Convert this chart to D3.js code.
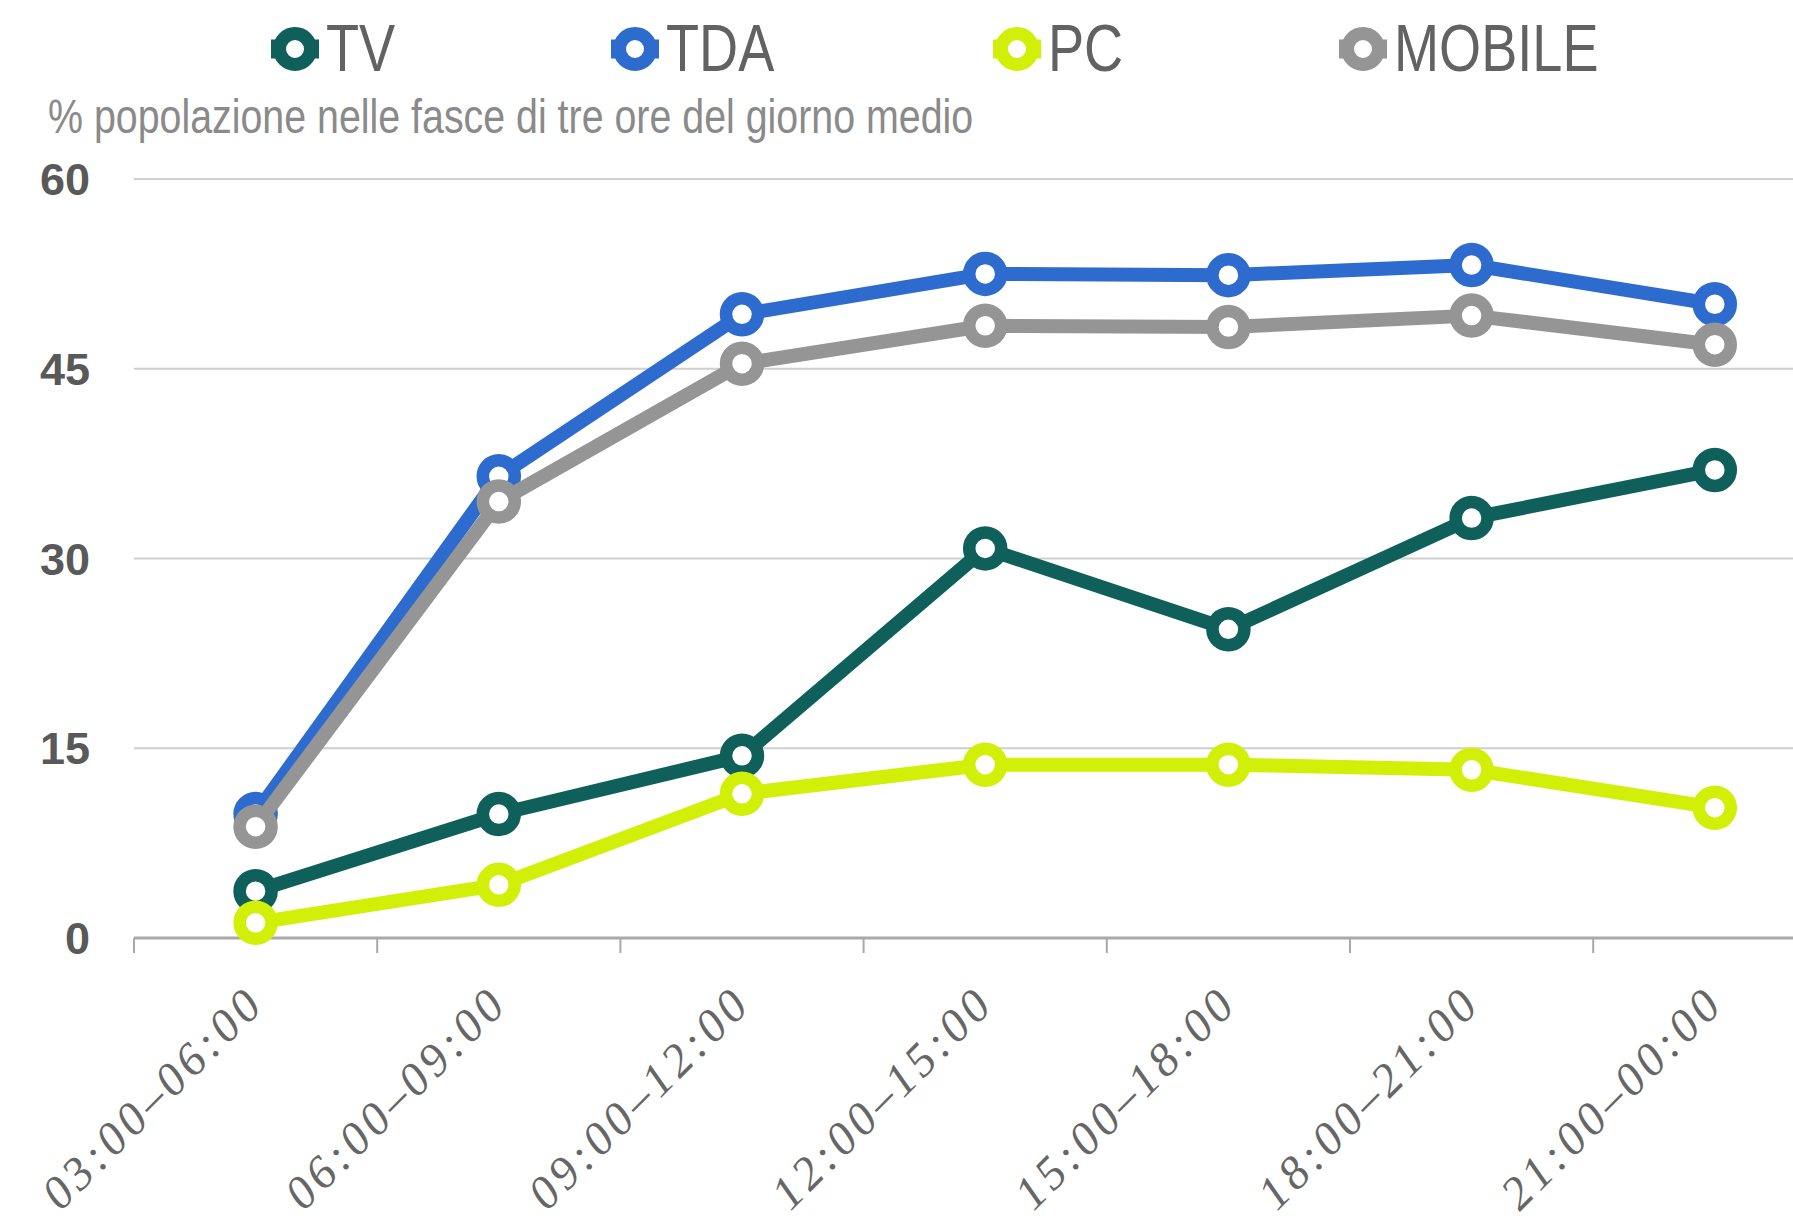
<!DOCTYPE html>
<html>
<head>
<meta charset="utf-8">
<script src="https://cdn.jsdelivr.net/npm/d3@7"></script>
<style>
    body { margin: 0; background: #fff; }
</style>
</head>
<body>
<div id="graph"></div>
<script>
let fasce = ["03:00–06:00", "06:00–09:00", "09:00–12:00", "12:00–15:00", "15:00–18:00", "18:00–21:00", "21:00–00:00"];
let valoriTV = [3.7, 9.8, 14.4, 30.8, 24.4, 33.2, 37.0];
let valoriTDA = [9.8, 36.5, 49.3, 52.5, 52.4, 53.2, 50.1];
let valoriPC = [1.2, 4.2, 11.4, 13.7, 13.7, 13.3, 10.3];
let valoriMobile = [8.8, 34.5, 45.4, 48.4, 48.3, 49.2, 46.9];
let yTicks = [0, 15, 30, 45, 60];

let serie = [
    { nome: "TV", valori: valoriTV, colore: "#0f5f5b", lx: 295 },
    { nome: "TDA", valori: valoriTDA, colore: "#2e6bcf", lx: 635 },
    { nome: "PC", valori: valoriPC, colore: "#d1ef07", lx: 1017 },
    { nome: "MOBILE", valori: valoriMobile, colore: "#959595", lx: 1363 }
];

let width = 1793;
let height = 1218;

let svg = d3.select('#graph')
    .append('svg')
    .attr('width', width)
    .attr('height', height);

// band scale: the 8th band runs off the right edge like in the original
let x = d3.scaleBand()
    .domain(fasce)
    .range([134, 134 + 7 * 243.2]);
let y = d3.scaleLinear()
    .domain([0, 60])
    .range([938, 179]);

let cx = function (c) { return x(c) + x.bandwidth() / 2; };

// grid
svg.selectAll('.grid')
    .data(yTicks.filter(function (d) { return d > 0; }))
    .enter().append('line')
    .attr('x1', 134)
    .attr('x2', width)
    .attr('y1', function (d) { return y(d); })
    .attr('y2', function (d) { return y(d); })
    .attr('stroke', '#cfcfcf')
    .attr('stroke-width', 2);

// y labels
svg.selectAll('.ylab')
    .data(yTicks)
    .enter().append('text')
    .attr('x', 90)
    .attr('y', function (d) { return y(d); })
    .attr('dy', '0.36em')
    .attr('text-anchor', 'end')
    .style('font-family', '"Liberation Sans", Arial, sans-serif')
    .style('font-weight', 'bold')
    .style('font-size', '45px')
    .attr('fill', '#595959')
    .text(function (d) { return d; });

// x axis line + ticks
svg.append('line')
    .attr('x1', 134)
    .attr('x2', width)
    .attr('y1', y(0))
    .attr('y2', y(0))
    .attr('stroke', '#a9a9a9')
    .attr('stroke-width', 3);
svg.selectAll('.tick')
    .data(fasce)
    .enter().append('line')
    .attr('x1', function (d) { return x(d); })
    .attr('x2', function (d) { return x(d); })
    .attr('y1', y(0))
    .attr('y2', y(0) + 15)
    .attr('stroke', '#a9a9a9')
    .attr('stroke-width', 2);

// x labels, rotated
svg.selectAll('.xlab')
    .data(fasce)
    .enter().append('text')
    .attr('transform', function (d) { return 'translate(' + (cx(d) + 8) + ',1009) rotate(-45)'; })
    .attr('text-anchor', 'end')
    .attr('textLength', 287)
    .attr('lengthAdjust', 'spacing')
    .style('font-family', '"Liberation Serif", "Times New Roman", serif')
    .style('font-style', 'italic')
    .style('font-size', '47px')
    .attr('fill', '#666666')
    .text(function (d) { return d; });

// series
let linea = d3.line()
    .x(function (d, i) { return cx(fasce[i]); })
    .y(function (d) { return y(d); });

serie.forEach(function (s) {
    let g = svg.append('g');
    g.append('path')
        .attr('d', linea(s.valori))
        .attr('fill', 'none')
        .attr('stroke', s.colore)
        .attr('stroke-width', 14)
        .attr('stroke-linejoin', 'round');
    g.selectAll('circle')
        .data(s.valori)
        .enter().append('circle')
        .attr('cx', function (d, i) { return cx(fasce[i]); })
        .attr('cy', function (d) { return y(d); })
        .attr('r', 16)
        .attr('fill', '#fff')
        .attr('stroke', s.colore)
        .attr('stroke-width', 12.5);
});

// legend
serie.forEach(function (s) {
    let lg = svg.append('g').attr('transform', 'translate(' + s.lx + ',49)');
    lg.append('line')
        .attr('x1', -24)
        .attr('x2', 24)
        .attr('stroke', s.colore)
        .attr('stroke-width', 19);
    lg.append('circle')
        .attr('r', 15.5)
        .attr('fill', '#fff')
        .attr('stroke', s.colore)
        .attr('stroke-width', 13);
    lg.append('text')
        .attr('transform', 'translate(31,22) scale(0.82,1)')
        .style('font-family', '"Liberation Sans", Arial, sans-serif')
        .style('font-size', '66px')
        .attr('fill', '#626262')
        .text(s.nome);
});

// subtitle
svg.append('text')
    .attr('transform', 'translate(48,133) scale(0.82,1)')
    .style('font-family', '"Liberation Sans", Arial, sans-serif')
    .style('font-size', '48px')
    .attr('fill', '#8a8a8a')
    .text('% popolazione nelle fasce di tre ore del giorno medio');
</script>
</body>
</html>
